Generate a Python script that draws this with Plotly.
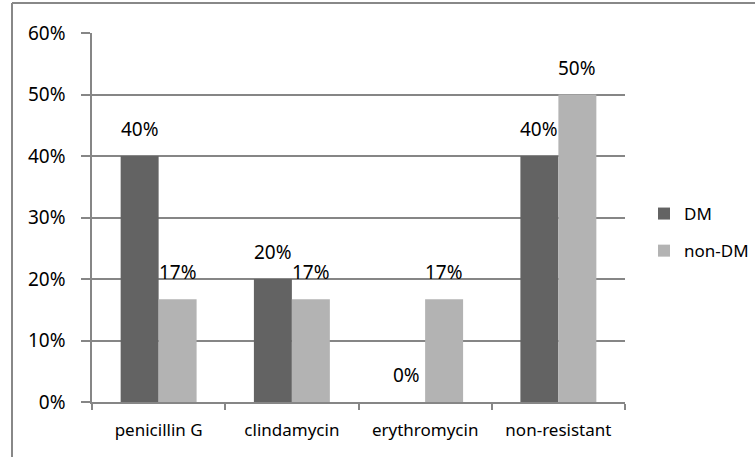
import plotly.graph_objects as go

categories = ["penicillin G", "clindamycin", "erythromycin", "non-resistant"]
dm_values = [40, 20, 0, 40]
non_dm_values = [16.7, 16.7, 16.7, 50]
y_ticks = [0, 10, 20, 30, 40, 50, 60]
y_tick_labels = ["0%", "10%", "20%", "30%", "40%", "50%", "60%"]

FONT = "Noto Sans"
W, H = 755, 457
ml, mr, mt, mb = 92, 130, 33, 55
pw = W - ml - mr
ph = H - mt - mb

def px_x(x):
    return (x - ml) / pw

def px_y(y):
    return (H - mb - y) / ph

fig = go.Figure()
fig.add_trace(go.Bar(
    x=categories, y=dm_values, name="DM",
    marker=dict(color="#636363", line=dict(width=0)),
    legendgroup="a",
))
fig.add_trace(go.Bar(
    x=categories, y=non_dm_values, name="non-DM",
    marker=dict(color="#b3b3b3", line=dict(width=0)),
    legendgroup="b",
))

# value labels, placed above each bar
bar_half = pw / len(categories) * (1 - 0.43) / 4
annotations = []
for cat, v in zip(categories, dm_values):
    annotations.append(dict(x=cat, y=v, xref="x", yref="y", text=f"{v:.0f}%",
                            showarrow=False, xshift=-bar_half, yshift=12,
                            yanchor="bottom", xanchor="center",
                            font=dict(size=19, family=FONT, color="#000000")))
for cat, v in zip(categories, non_dm_values):
    annotations.append(dict(x=cat, y=v, xref="x", yref="y", text=f"{v:.0f}%",
                            showarrow=False, xshift=bar_half, yshift=12,
                            yanchor="bottom", xanchor="center",
                            font=dict(size=19, family=FONT, color="#000000")))

fig.update_layout(
    width=W, height=H,
    margin=dict(l=ml, r=mr, t=mt, b=mb, pad=0, autoexpand=False),
    paper_bgcolor="white", plot_bgcolor="white",
    font=dict(family=FONT, color="#000000"),
    barmode="group", bargap=0.43, bargroupgap=0,
    showlegend=True,
    annotations=annotations,
    legend=dict(
        xref="container", yref="container",
        x=644 / W, y=1 - 196 / H, xanchor="left", yanchor="top",
        font=dict(size=17, family=FONT), tracegroupgap=12,
        itemwidth=30, bgcolor="rgba(0,0,0,0)",
    ),
    xaxis=dict(
        type="category", showgrid=False, showline=True, automargin=False,
        linecolor="#868686", linewidth=1.5,
        ticks="outside", ticklen=6, tickcolor="#868686", tickwidth=1.5,
        tickson="boundaries",
        tickfont=dict(size=17, family=FONT), ticklabelstandoff=12,
    ),
    yaxis=dict(
        range=[0, 60], tickmode="array", tickvals=y_ticks, ticktext=y_tick_labels,
        automargin=False,
        showgrid=True, gridcolor="#868686", gridwidth=1.5,
        showline=True, linecolor="#868686", linewidth=1.5,
        ticks="outside", ticklen=9, tickcolor="#868686", tickwidth=1.5,
        tickfont=dict(size=19, family=FONT), ticklabelstandoff=12,
        zeroline=False, fixedrange=True,
    ),
    shapes=[
        dict(type="line", xref="paper", yref="paper",
             x0=px_x(12), x1=px_x(760), y0=px_y(3), y1=px_y(3),
             line=dict(color="#888888", width=2)),
        dict(type="line", xref="paper", yref="paper",
             x0=px_x(12), x1=px_x(12), y0=px_y(3), y1=px_y(460),
             line=dict(color="#888888", width=2)),
    ],
)

fig.write_html("out.html", config={"displayModeBar": False},
               post_script="document.body.style.margin='0px';")
